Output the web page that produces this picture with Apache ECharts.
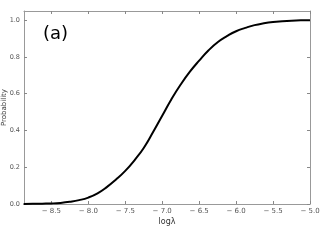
<!DOCTYPE html>
<html><head><meta charset="utf-8">
<script src="https://cdn.jsdelivr.net/npm/echarts@6/dist/echarts.min.js"></script>
<style>html,body{margin:0;padding:0;background:#fff}#c{width:324px;height:248px}</style>
</head><body><div id="c"></div>
<script>
const logLambda = [-8.875,-8.75,-8.625,-8.5,-8.375,-8.25,-8.125,-8.0,-7.875,-7.75,-7.625,-7.5,-7.375,-7.25,-7.125,-7.0,-6.875,-6.75,-6.625,-6.5,-6.375,-6.25,-6.125,-6.0,-5.875,-5.75,-5.625,-5.5,-5.375,-5.25,-5.125,-5.0];
const probability = [0.000,0.001,0.002,0.003,0.006,0.012,0.021,0.035,0.058,0.092,0.133,0.180,0.238,0.305,0.390,0.480,0.570,0.650,0.720,0.780,0.835,0.880,0.913,0.940,0.958,0.973,0.983,0.990,0.994,0.997,0.999,1.000];
const xTicks = [-8.5,-8.0,-7.5,-7.0,-6.5,-6.0,-5.5,-5.0];
const yTicks = [0.0,0.2,0.4,0.6,0.8,1.0];
const panelLabel = '(a)';
const xName = 'logλ';
const yName = 'Probability';

const font = 'DejaVu Sans';
const frame = {show:true, onZero:false, lineStyle:{color:'#999', width:1}};
const tick = (vals) => ({show:true, inside:true, length:3, lineStyle:{color:'#888'}, customValues:vals});
const chart = echarts.init(document.getElementById('c'), null, {renderer:'canvas'});
chart.setOption({
  animation:false,
  grid:{left:24, right:14, top:11, bottom:44, containLabel:false, outerBoundsMode:'none'},
  title:{text:panelLabel, left:38, top:20, textStyle:{fontFamily:font, fontSize:18, fontWeight:'normal', color:'#000'}},
  xAxis:[{
    type:'value', min:-8.87, max:-5.0,
    axisLine:frame, axisTick:tick(xTicks), splitLine:{show:false},
    axisLabel:{customValues:xTicks, fontFamily:font, fontSize:7, color:'#555', margin:4,
      formatter:v=>v.toFixed(1).replace('-','− ')},
    name:xName, nameLocation:'middle', nameGap:14, nameMoveOverlap:false,
    nameTextStyle:{fontFamily:font, fontSize:8, color:'#333'}
  },{
    type:'value', position:'top', min:-8.87, max:-5.0,
    axisLine:frame, axisTick:tick(xTicks), axisLabel:{show:false}, splitLine:{show:false}
  }],
  yAxis:[{
    type:'value', min:0, max:1.05,
    axisLine:frame, axisTick:tick(yTicks), splitLine:{show:false},
    axisLabel:{customValues:yTicks, fontFamily:font, fontSize:6.5, color:'#555', margin:4,
      formatter:v=>v.toFixed(1)},
    name:yName, nameLocation:'middle', nameGap:16, nameRotate:90, nameMoveOverlap:false,
    nameTextStyle:{fontFamily:font, fontSize:7, color:'#333'}
  },{
    type:'value', position:'right', min:0, max:1.05,
    axisLine:frame, axisTick:tick(yTicks), axisLabel:{show:false}, splitLine:{show:false}
  }],
  series:[{
    type:'line', xAxisIndex:0, yAxisIndex:0, showSymbol:false, smooth:true,
    data:logLambda.map((x,i)=>[x, probability[i]]),
    lineStyle:{color:'#000', width:2}
  }]
});
</script></body></html>
